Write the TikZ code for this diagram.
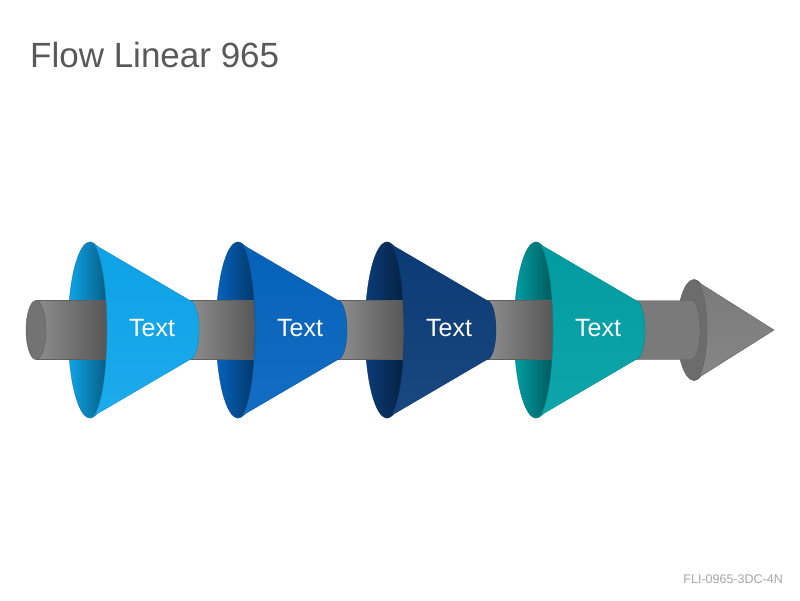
\documentclass[tikz,border=0pt]{standalone}
\usepackage{fontspec}
\setmainfont{Liberation Sans}
\definecolor{cA}{RGB}{14,166,236}
\definecolor{cB}{RGB}{5,100,190}
\definecolor{cC}{RGB}{11,60,120}
\definecolor{cD}{RGB}{0,160,165}
\definecolor{tubeL}{RGB}{142,142,142}
\definecolor{tubeD}{RGB}{82,82,82}
\definecolor{tubeE}{RGB}{95,95,95}
\definecolor{capgray}{RGB}{115,115,115}
\definecolor{lastgray}{RGB}{122,122,122}
\definecolor{discgray}{RGB}{108,108,108}
\definecolor{headgray}{RGB}{127,127,127}
\definecolor{titlegray}{RGB}{89,89,89}
\definecolor{footgray}{RGB}{166,166,166}
\begin{document}
\begin{tikzpicture}[x=1pt,y=-1pt,
  tubeseg/.style={left color=tubeL, right color=tubeD, draw=tubeE, line width=0.4pt},
  lbl/.style={text=white, inner sep=0pt, font=\fontsize{25}{30}\selectfont},
  ttl/.style={text=titlegray, inner sep=0pt, anchor=base west, font=\fontsize{35}{42}\selectfont},
  foot/.style={text=footgray, inner sep=0pt, anchor=base east, font=\fontsize{12.5}{14}\selectfont}]
\useasboundingbox (0,0) rectangle (800,600);
\fill[white] (0,0) rectangle (800,600);
% base discs
\foreach \cx/\col in {90/cA,238/cB,387/cC,536/cD}{
  \shade[left color=\col, right color=\col!50!black, draw=\col!70!black, line width=0.3pt]
    (\cx,330) ellipse[x radius=22, y radius=88];
}
\filldraw[fill=discgray, draw=tubeE, line width=0.4pt] (694,330) ellipse[x radius=17, y radius=50.5];
% tube segments
\shade[tubeseg] (36,300.5) rectangle (112,359.5);
\filldraw[fill=capgray, draw=tubeE, line width=0.4pt] (36,330) ellipse[x radius=10, y radius=29.5];
\shade[tubeseg] (190,300.5) rectangle (260,359.5);
\shade[tubeseg] (338,300.5) rectangle (409,359.5);
\shade[tubeseg] (487,300.5) rectangle (558,359.5);
\filldraw[fill=lastgray, draw=tubeE, line width=0.4pt] (636,300.5) -- (692,300.5)
  arc[start angle=-90, end angle=90, x radius=8, y radius=29.5] -- (636,359.5) -- cycle;
% cone surfaces
\foreach \cx/\col in {90/cA,238/cB,387/cC,536/cD}{
  \shade[top color=\col!97!black, bottom color=\col!94!white, draw=\col!80!black, line width=0.3pt]
    (\cx,242) arc[start angle=-90, end angle=90, x radius=17, y radius=88]
    -- ({\cx+100},359.5) arc[start angle=90, end angle=-90, x radius=9, y radius=29.5] -- cycle;
}
\shade[top color=headgray!96!black, bottom color=headgray!94!white, draw=tubeE, line width=0.4pt]
  (694,279.5) arc[start angle=-90, end angle=90, x radius=13, y radius=50.5] -- (774,330) -- cycle;
% labels
\node[lbl] (t1) at (152,328) {Text};
\node[lbl] (t2) at (300,328) {Text};
\node[lbl] (t3) at (449,328) {Text};
\node[lbl] (t4) at (598,328) {Text};
\node[ttl] (title) at (30,67) {Flow Linear 965};
\node[foot] (code) at (783,583) {FLI-0965-3DC-4N};
\end{tikzpicture}
\end{document}
